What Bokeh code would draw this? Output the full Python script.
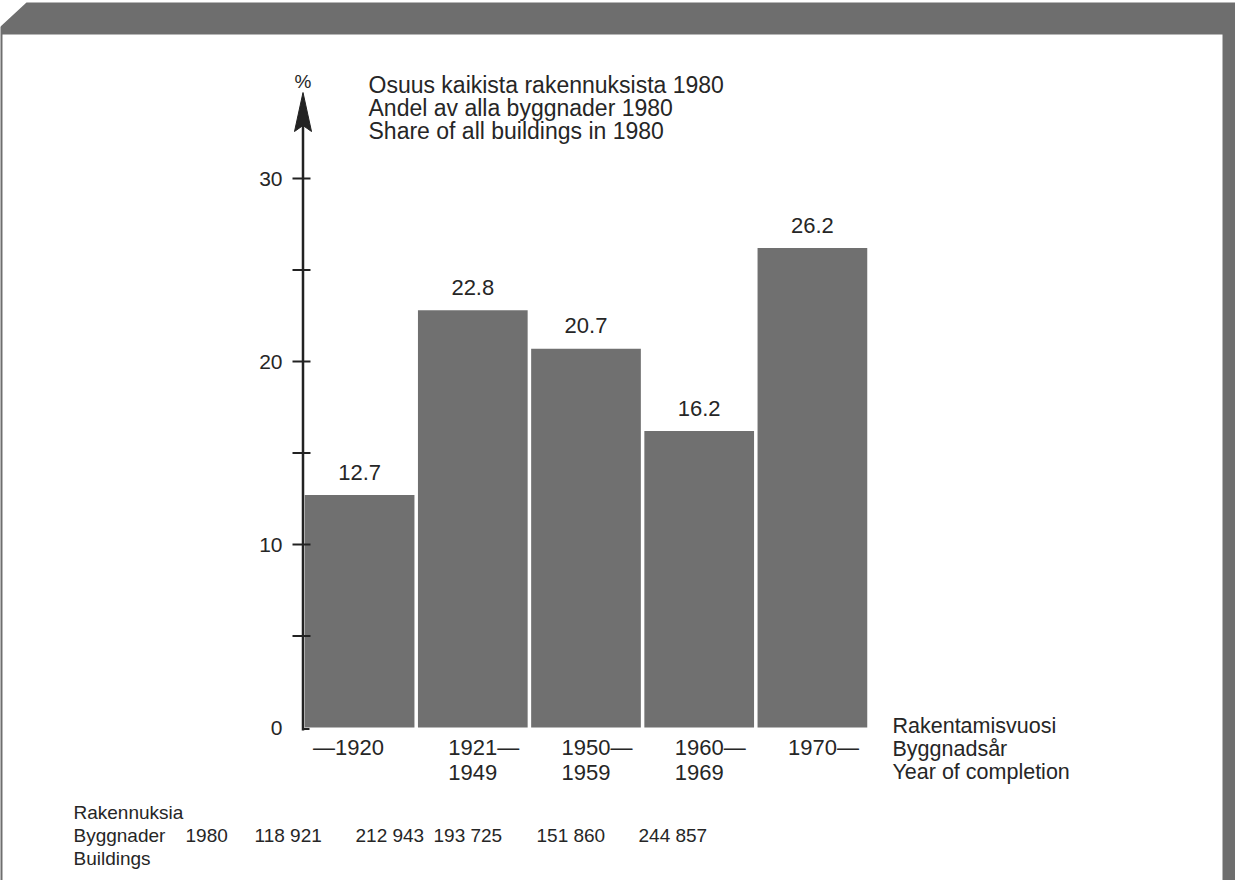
from bokeh.plotting import figure
from bokeh.models import Range1d
from bokeh.core.properties import value
from bokeh.embed import file_html
from bokeh.resources import INLINE

# ---------------- data ----------------
period_start = ["\u20141920", "1921\u2014", "1950\u2014", "1960\u2014", "1970\u2014"]
period_end = ["", "1949", "1959", "1969", ""]
shares = [12.7, 22.8, 20.7, 16.2, 26.2]
buildings = ["118 921", "212 943", "193 725", "151 860", "244 857"]
y_ticks = [5, 10, 15, 20, 25, 30]
y_tick_labels = [0, 10, 20, 30]
title_lines = ["Osuus kaikista rakennuksista 1980",
               "Andel av alla byggnader 1980",
               "Share of all buildings in 1980"]
x_title_lines = ["Rakentamisvuosi", "Byggnadsår", "Year of completion"]
table_head = ["Rakennuksia", "Byggnader", "Buildings"]
table_year = "1980"

# ---------------- layout (page pixels) ----------------
W, H = 1235, 880
OFF = 8
X0, SX = 310.5, 113.2     # page x of data x=0, px per bar
Y0, SY = 735.0, 18.3      # page y of data y=0, px per percent
FONT = value("Liberation Sans")
TXT = "#262626"
GREY = "#6e6e6e"
BAR = "#707070"


def dx(px):
    return (px - X0) / SX


def dy(py):
    return (Y0 - py) / SY


p = figure(width=W, height=H, output_backend="svg", toolbar_location=None,
           tools="", x_range=Range1d(dx(OFF), dx(OFF + W)),
           y_range=Range1d(dy(OFF + H), dy(OFF)),
           x_axis_type=None, y_axis_type=None, min_border=0)
p.outline_line_color = None
p.xgrid.visible = False
p.ygrid.visible = False
p.background_fill_color = "white"
p.border_fill_color = "white"

# frame decoration
frame_px = [(6, 900), (6, 36), (34, 10), (1251, 10), (1251, 875), (1243, 900),
            (1230, 900), (1230, 42), (10, 42), (10, 900)]
p.patch([dx(a) for a, b in frame_px], [dy(b) for a, b in frame_px],
        fill_color=GREY, line_color=None)

# bars
n = len(shares)
centers = [i + 0.5 for i in range(n)]
p.vbar(x=centers, top=shares, bottom=0, width=1 - 3.5 / SX,
       fill_color=BAR, line_color=None)

# value labels
p.text(x=centers, y=shares, text=[f"{v:.1f}" for v in shares], y_offset=-23,
       text_align="center", text_baseline="middle", text_font=FONT,
       text_font_size=value("22px"), text_color=TXT)

# y axis line + arrow
p.segment(x0=[0], y0=[dy(738)], x1=[0], y1=[dy(130)], line_color="#222222",
          line_width=2.5)
p.segment(x0=[0], y0=[dy(736.5)], x1=[dx(317)], y1=[dy(736.5)],
          line_color="#222222", line_width=2)
arrow_px = [(310.5, 100), (302, 139), (310.5, 133), (319, 139)]
p.patch([dx(a) for a, b in arrow_px], [dy(b) for a, b in arrow_px],
        fill_color="#222222", line_color="#222222", line_width=1)
p.text(x=[0], y=[dy(89)], text=["%"], text_align="center",
       text_baseline="middle", text_font=FONT,
       text_font_size=value("19px"), text_color=TXT)

# ticks
p.segment(x0=[dx(300)] * len(y_ticks), y0=y_ticks,
          x1=[dx(318)] * len(y_ticks), y1=y_ticks,
          line_color="#222222", line_width=2)
p.text(x=[dx(290)] * len(y_tick_labels), y=y_tick_labels,
       text=[str(t) for t in y_tick_labels], text_align="right",
       text_baseline="middle", text_font=FONT, text_font_size=value("21px"),
       text_color=TXT)

# title lines
p.text(x=[dx(376)] * 3, y=[dy(92), dy(115), dy(138)], text=title_lines,
       text_align="left", text_baseline="alphabetic", text_font=FONT,
       text_font_size=value("23px"), text_color=TXT)

# x category labels: year digits centered on the bar
half_digits = 2 * 0.556 * 22 / SX
for i, (s, e) in enumerate(zip(period_start, period_end)):
    if s.startswith("\u2014"):
        p.text(x=[centers[i] + half_digits], y=[dy(755)], text=[s],
               text_align="right", text_baseline="middle", text_font=FONT,
               text_font_size=value("22px"), text_color=TXT)
    else:
        p.text(x=[centers[i] - half_digits], y=[dy(755)], text=[s],
               text_align="left", text_baseline="middle", text_font=FONT,
               text_font_size=value("22px"), text_color=TXT)
    if e:
        p.text(x=[centers[i] - half_digits], y=[dy(780)], text=[e],
               text_align="left", text_baseline="middle", text_font=FONT,
               text_font_size=value("22px"), text_color=TXT)

# x axis title (right side)
p.text(x=[dx(900)] * 3, y=[dy(733), dy(756), dy(779)], text=x_title_lines,
       text_align="left", text_baseline="middle", text_font=FONT,
       text_font_size=value("21.5px"), text_color=TXT)

# bottom table
TABLE_FS = value("19px")
p.text(x=[dx(81)] * 3, y=[dy(820), dy(843), dy(866)], text=table_head,
       text_align="left", text_baseline="middle", text_font=FONT,
       text_font_size=TABLE_FS, text_color=TXT)
p.text(x=[dx(193)], y=[dy(843)], text=[table_year], text_align="left",
       text_baseline="middle", text_font=FONT,
       text_font_size=TABLE_FS, text_color=TXT)
col_left_px = [262, 363, 441, 544, 646]
p.text(x=[dx(c) for c in col_left_px], y=[dy(843)] * n, text=buildings,
       text_align="left", text_baseline="middle", text_font=FONT,
       text_font_size=TABLE_FS, text_color=TXT)

open("out.html", "w").write(file_html(p, INLINE))
